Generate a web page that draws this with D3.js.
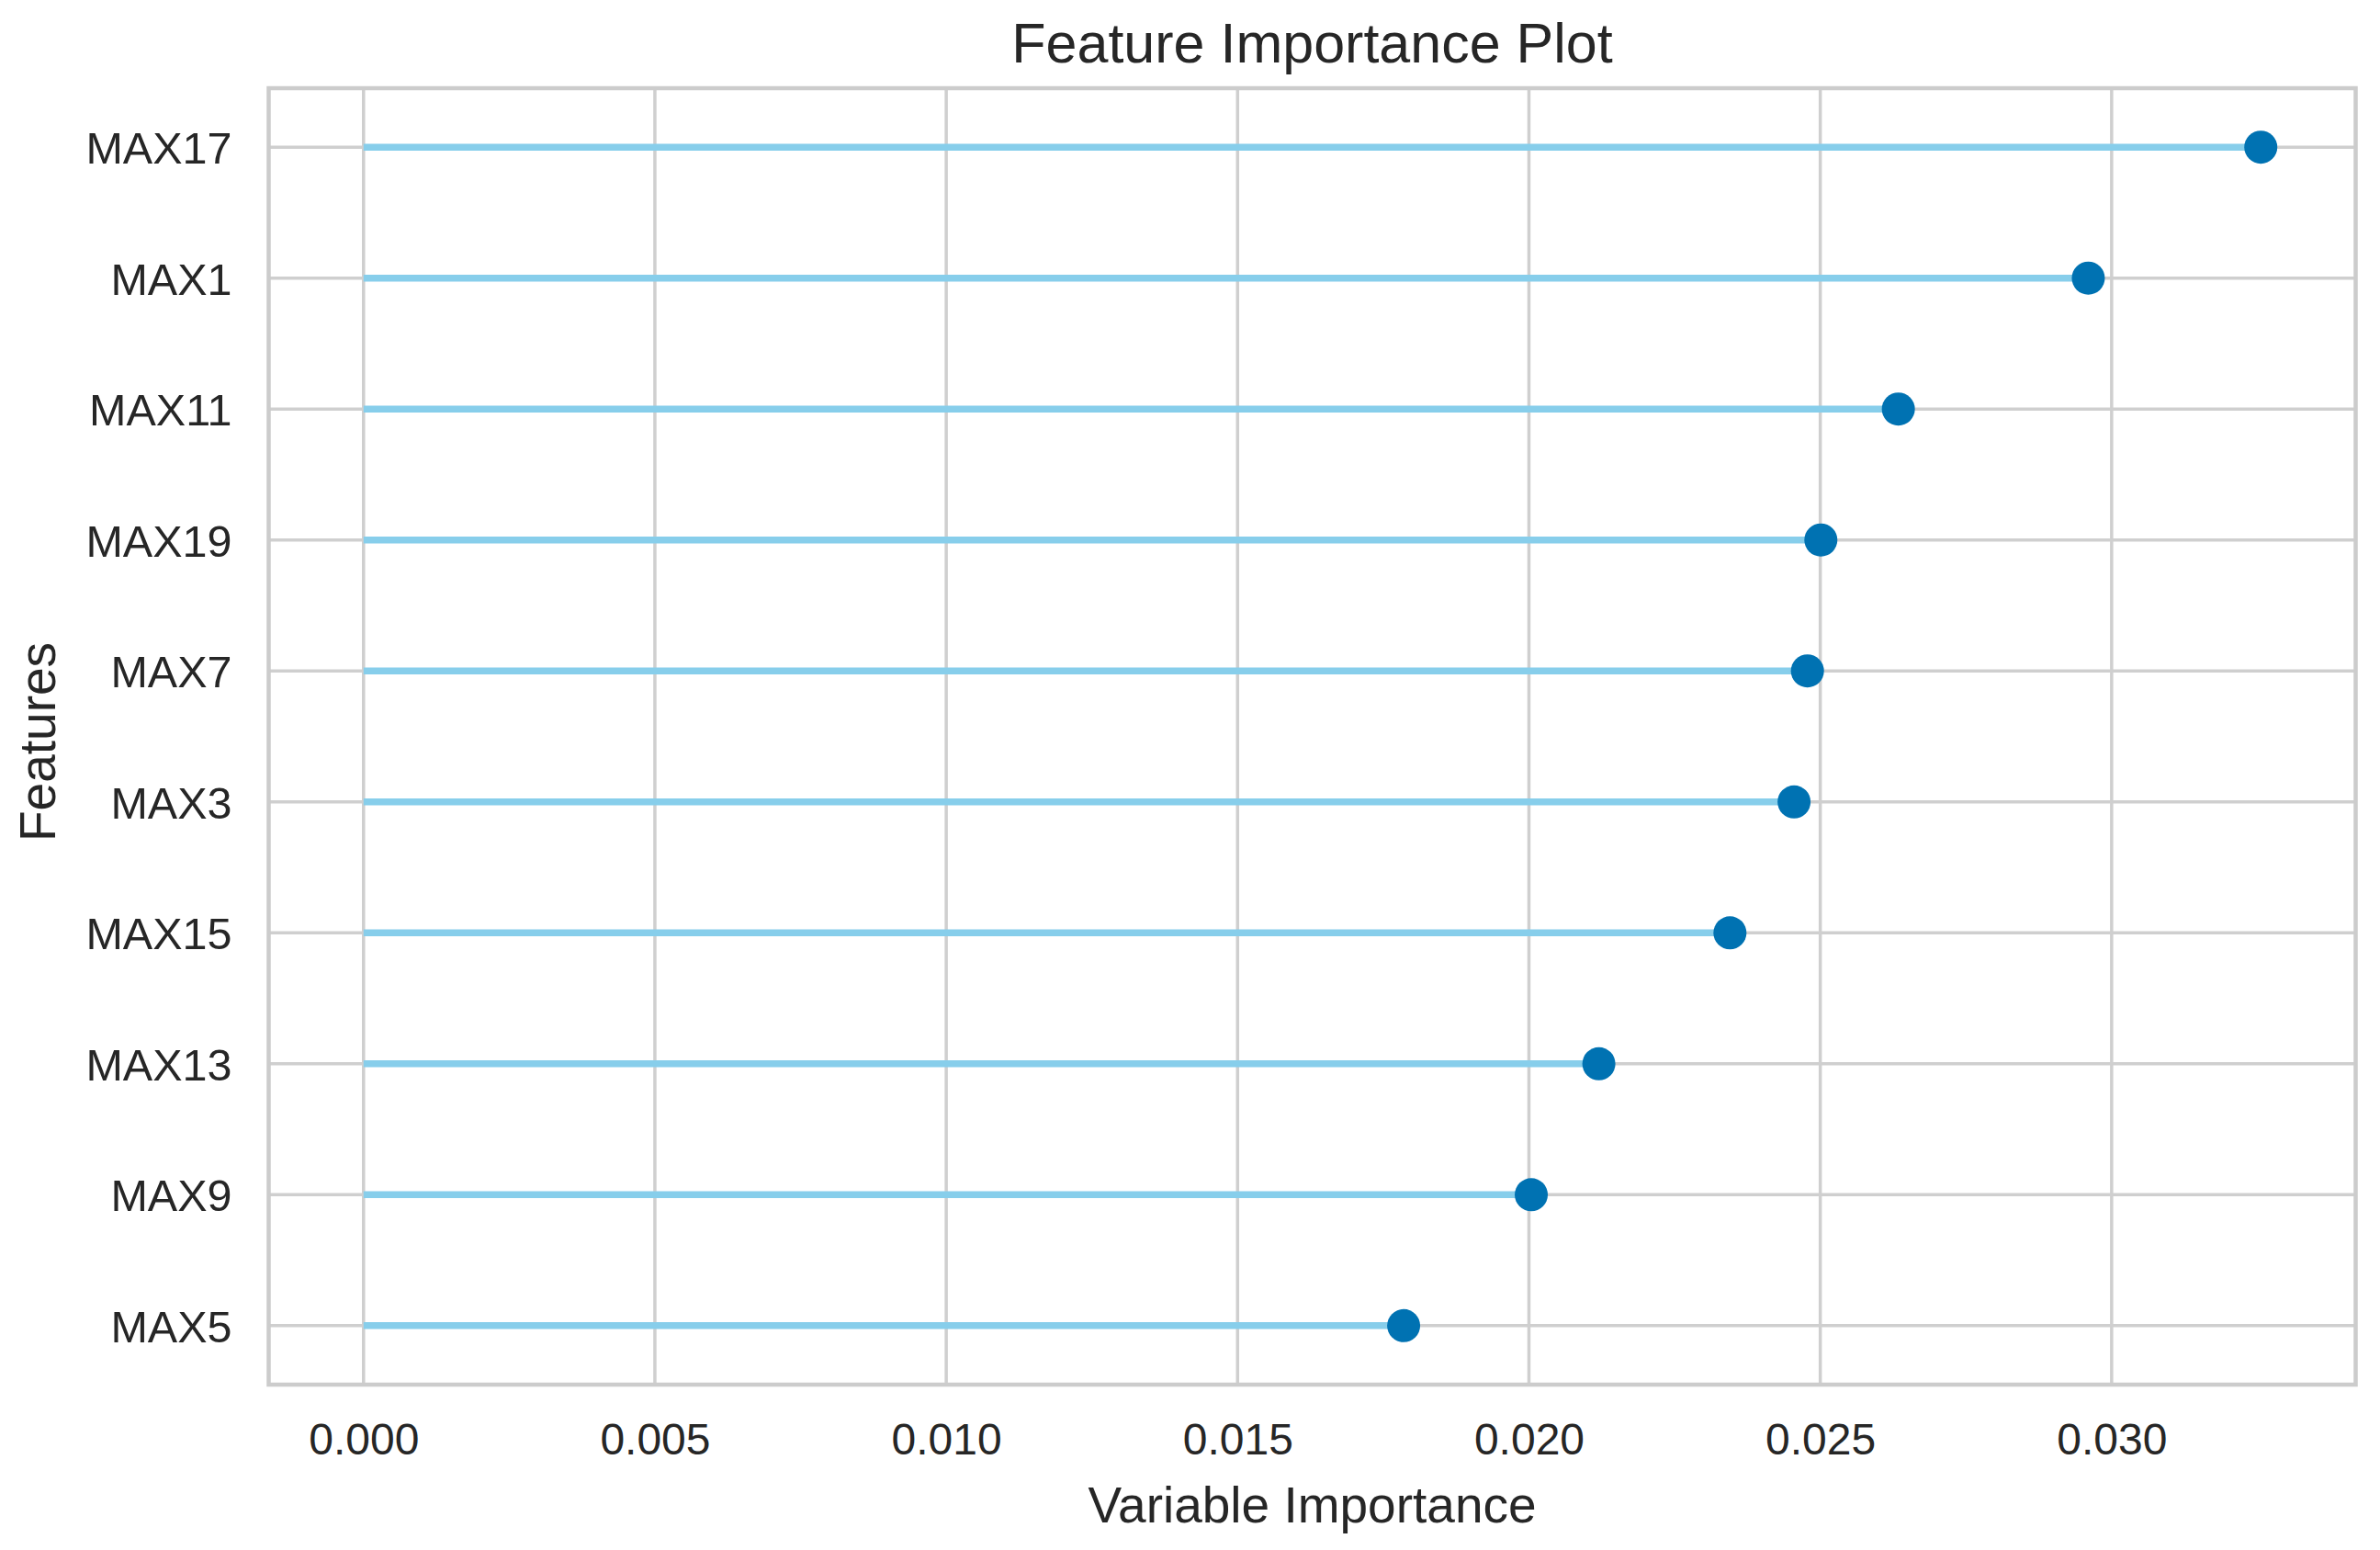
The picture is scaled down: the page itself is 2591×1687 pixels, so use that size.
<!DOCTYPE html>
<html>
<head>
<meta charset="utf-8">
<script src="https://cdn.jsdelivr.net/npm/d3@7"></script>
<style>
  html, body { margin: 0; padding: 0; background: #ffffff; }
  svg { display: block; }
  text { font-family: "Liberation Sans", Arial, sans-serif; fill: #262626; }
</style>
</head>
<body>
<svg id="chart" width="2591" height="1687"></svg>
<script>
// ---- data (top to bottom) ----
const features = ["MAX17", "MAX1", "MAX11", "MAX19", "MAX7", "MAX3", "MAX15", "MAX13", "MAX9", "MAX5"];
const importance = [0.03256, 0.02960, 0.02634, 0.02501, 0.02478, 0.02455, 0.02345, 0.02120, 0.02004, 0.01785];
const xTicks = [0.000, 0.005, 0.010, 0.015, 0.020, 0.025, 0.030];
const titleText = "Feature Importance Plot";
const xLabelText = "Variable Importance";
const yLabelText = "Features";

const W = 2591, H = 1687;
const m = { left: 292.5, right: 2564.5, top: 96, bottom: 1507 };

const svg = d3.select("#chart");
svg.append("rect").attr("width", W).attr("height", H).attr("fill", "#ffffff");

const maxV = d3.max(importance);
const pad = 0.05 * maxV;
const x = d3.scaleLinear().domain([0 - pad, maxV + pad]).range([m.left, m.right]);
const y = d3.scalePoint().domain(features).range([m.top, m.bottom]).padding(0.45);

const gridColor = "#cfcfcf";

// vertical grid lines
svg.append("g").selectAll("line").data(xTicks).join("line")
  .attr("x1", d => x(d)).attr("x2", d => x(d))
  .attr("y1", m.top).attr("y2", m.bottom)
  .attr("stroke", gridColor).attr("stroke-width", 3.5);

// horizontal grid lines
svg.append("g").selectAll("line").data(features).join("line")
  .attr("x1", m.left).attr("x2", m.right)
  .attr("y1", d => y(d)).attr("y2", d => y(d))
  .attr("stroke", gridColor).attr("stroke-width", 3.5);

// axes (labels only, no tick marks)
const xAxis = d3.axisBottom(x).tickValues(xTicks).tickFormat(d3.format(".3f")).tickSize(0).tickPadding(0);
const gx = svg.append("g").attr("transform", `translate(0,${m.bottom})`).call(xAxis);
gx.select(".domain").remove();
gx.selectAll("text").attr("font-size", 48).attr("dy", null).attr("y", 76)
  .style("font-family", '"Liberation Sans", Arial, sans-serif').attr("fill", "#262626");

const yAxis = d3.axisLeft(y).tickSize(0).tickPadding(0);
const gy = svg.append("g").attr("transform", `translate(${m.left},0)`).call(yAxis);
gy.select(".domain").remove();
gy.selectAll("text").attr("font-size", 48.5).attr("x", -40).attr("dy", "0.36em")
  .style("font-family", '"Liberation Sans", Arial, sans-serif').attr("fill", "#262626");

// frame
svg.append("rect")
  .attr("x", m.left).attr("y", m.top)
  .attr("width", m.right - m.left).attr("height", m.bottom - m.top)
  .attr("fill", "none").attr("stroke", "#cccccc").attr("stroke-width", 4.5);

// stems
svg.append("g").selectAll("line").data(features).join("line")
  .attr("x1", x(0)).attr("x2", (d, i) => x(importance[i]))
  .attr("y1", d => y(d)).attr("y2", d => y(d))
  .attr("stroke", "#87CEEB").attr("stroke-width", 7.5);

// dots
svg.append("g").selectAll("circle").data(features).join("circle")
  .attr("cx", (d, i) => x(importance[i])).attr("cy", d => y(d))
  .attr("r", 18).attr("fill", "#0072B2");

// title
svg.append("text").attr("x", (m.left + m.right) / 2).attr("y", 68)
  .attr("text-anchor", "middle").attr("font-size", 61).text(titleText);

// x label
svg.append("text").attr("x", (m.left + m.right) / 2).attr("y", 1657)
  .attr("text-anchor", "middle").attr("font-size", 55).text(xLabelText);

// y label
svg.append("text").attr("transform", `translate(60,${(m.top + m.bottom) / 2 + 6}) rotate(-90)`)
  .attr("text-anchor", "middle").attr("font-size", 55).text(yLabelText);
</script>
</body>
</html>
